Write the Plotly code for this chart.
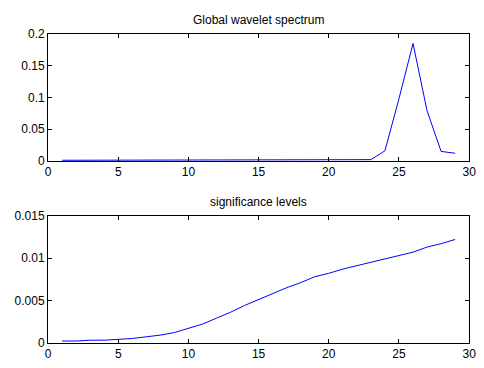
import plotly.graph_objects as go

scale = list(range(1, 30))
global_ws = [0.001, 0.001, 0.001, 0.001, 0.001, 0.001, 0.001, 0.001, 0.001, 0.001,
             0.001, 0.001, 0.001, 0.001, 0.001, 0.001, 0.001, 0.001, 0.001, 0.001,
             0.001, 0.001, 0.002, 0.016, 0.098, 0.185, 0.079, 0.015, 0.012]
signif = [0.0002, 0.0002, 0.0003, 0.0003, 0.0004, 0.0005, 0.0007, 0.0009, 0.0012, 0.0017,
          0.0022, 0.0029, 0.0036, 0.0044, 0.0051, 0.0058, 0.0065, 0.0071, 0.0078, 0.0082,
          0.0087, 0.0091, 0.0095, 0.0099, 0.0103, 0.0107, 0.0113, 0.0117, 0.0122]
titles = ["Global wavelet spectrum", "significance levels"]

W, H = 484, 368
FONT = "Liberation Sans, Arial"
fig = go.Figure()
fig.add_trace(go.Scatter(x=scale, y=global_ws, mode="lines", line=dict(color="#0000ff", width=1),
                         xaxis="x", yaxis="y", showlegend=False, hoverinfo="skip"))
fig.add_trace(go.Scatter(x=scale, y=signif, mode="lines", line=dict(color="#0000ff", width=1),
                         xaxis="x2", yaxis="y2", showlegend=False, hoverinfo="skip"))

xd = [46 / W, 476 / W]
top_dom = [1 - 160 / H, 1 - 28 / H]
bot_dom = [1 - 349 / H, 1 - 217 / H]

axis_common = dict(showline=True, linecolor="black", linewidth=1, mirror="ticks",
                   ticks="inside", ticklen=4, tickcolor="black", showgrid=False,
                   zeroline=False, tickfont=dict(family=FONT, size=12, color="black"))

fig.update_layout(
    autosize=True, margin=dict(l=0, r=0, t=0, b=0),
    paper_bgcolor="white", plot_bgcolor="white",
    xaxis=dict(domain=xd, anchor="y", range=[0, 30], tickvals=[0, 5, 10, 15, 20, 25, 30], **axis_common),
    yaxis=dict(domain=top_dom, anchor="x", range=[0, 0.2], tickvals=[0, 0.05, 0.1, 0.15, 0.2],
               ticktext=["0", "0.05", "0.1", "0.15", "0.2"], **axis_common),
    xaxis2=dict(domain=xd, anchor="y2", range=[0, 30], tickvals=[0, 5, 10, 15, 20, 25, 30], **axis_common),
    yaxis2=dict(domain=bot_dom, anchor="x2", range=[0, 0.015], tickvals=[0, 0.005, 0.01, 0.015],
                ticktext=["0", "0.005", "0.01", "0.015"], **axis_common),
    annotations=[
        dict(text=titles[0], x=(xd[0] + xd[1]) / 2, y=1 - 14 / H, xref="paper", yref="paper",
             xanchor="center", yanchor="middle",
             showarrow=False, font=dict(family=FONT, size=12, color="black")),
        dict(text=titles[1], x=(xd[0] + xd[1]) / 2, y=1 - 203 / H, xref="paper", yref="paper",
             xanchor="center", yanchor="middle",
             showarrow=False, font=dict(family=FONT, size=12, color="black")),
    ],
)
fig.write_html(
    "out.html",
    config={"displayModeBar": False, "responsive": True},
    default_width="100vw", default_height="100vh",
    post_script=("document.body.style.margin='0';"
                 "document.body.style.overflow='hidden';"
                 "document.documentElement.style.overflow='hidden';"
                 "Plotly.Plots.resize(document.getElementById('{plot_id}'));"),
)
